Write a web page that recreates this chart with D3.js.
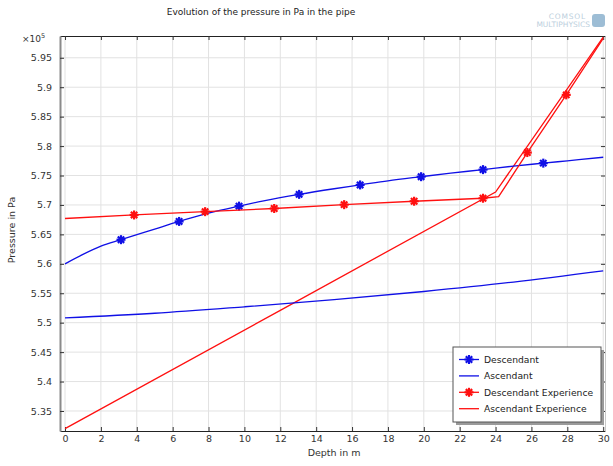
<!DOCTYPE html>
<html lang="en">
<head>
<meta charset="UTF-8">
<title>Evolution of the pressure in Pa in the pipe</title>
<script src="https://d3js.org/d3.v7.min.js"></script>
<style>
  body { margin: 0; background: #fff; }
  text { font-family: "DejaVu Sans", sans-serif; fill: #333; }
</style>
</head>
<body>
<div id="chart"></div>
<script>
// pressure values in units of 1e5 Pa, depth in m
var descX    = [0, 1, 2, 3.12, 5, 6.36, 8, 9.7, 11, 13.05, 15, 16.45, 18, 19.85, 21.5, 23.3, 25, 26.66, 28, 30];
var descY    = [5.600, 5.616, 5.630, 5.641, 5.659, 5.672, 5.686, 5.698, 5.7065, 5.718, 5.7275, 5.734, 5.741, 5.748, 5.754, 5.760, 5.766, 5.771, 5.775, 5.781];
var descMarks = [3.12, 6.36, 9.7, 13.05, 16.45, 19.85, 23.3, 26.66];

var ascX     = [0, 5, 10, 15, 20, 25, 30];
var ascY     = [5.508, 5.516, 5.527, 5.539, 5.553, 5.569, 5.588];

var descExpX = [0, 3.85, 7.81, 11.66, 15.56, 19.46, 23.3, 24.17, 25.77, 27.94, 30];
var descExpY = [5.677, 5.683, 5.6886, 5.694, 5.7005, 5.7063, 5.7114, 5.714, 5.789, 5.887, 5.983];
var descExpMarks = [3.85, 7.81, 11.66, 15.56, 19.46, 23.3, 25.77, 27.94];

var ascExpX  = [0, 12, 24, 30];
var ascExpY  = [5.320, 5.521, 5.722, 5.985];

var xTicks = d3.range(0, 31, 2);
var yTicks = [5.35, 5.4, 5.45, 5.5, 5.55, 5.6, 5.65, 5.7, 5.75, 5.8, 5.85, 5.9, 5.95];

var seriesNames = ["Descendant", "Ascendant", "Descendant Experience", "Ascendant Experience"];
var seriesColors = ["#1010e6", "#1010e6", "#ff1010", "#ff1010"];

var width = 613, height = 466;
var pLeft = 60, pRight = 605, pTop = 36, pBottom = 431;

var svg = d3.select("#chart").append("svg")
    .attr("width", width)
    .attr("height", height);

var x = d3.scaleLinear().domain([-0.28, 30.1]).range([pLeft, pRight]);
var y = d3.scaleLinear().domain([5.316, 5.987]).range([pBottom, pTop]);

// title and logo
svg.append("text")
   .attr("x", 261).attr("y", 15)
   .attr("text-anchor", "middle")
   .attr("font-size", "9px")
   .style("fill", "#222")
   .text("Evolution of the pressure in Pa in the pipe");

svg.append("text")
   .attr("x", 586).attr("y", 19)
   .attr("text-anchor", "end")
   .attr("font-size", "7.5px")
   .attr("letter-spacing", "0.8px")
   .style("fill", "#bccfdd")
   .text("COMSOL");
svg.append("text")
   .attr("x", 590).attr("y", 27)
   .attr("text-anchor", "end")
   .attr("font-size", "7.5px")
   .style("fill", "#bccfdd")
   .text("MULTIPHYSICS");
svg.append("rect")
   .attr("x", 592).attr("y", 14).attr("width", 13).attr("height", 13)
   .attr("rx", 3)
   .attr("fill", "#9dbdd5");

// grid
svg.append("g").selectAll("line")
   .data(xTicks).enter().append("line")
   .attr("x1", function(d) { return x(d); })
   .attr("x2", function(d) { return x(d); })
   .attr("y1", pTop).attr("y2", pBottom)
   .attr("stroke", "#e2e2e2");

svg.append("g").selectAll("line")
   .data(yTicks).enter().append("line")
   .attr("y1", function(d) { return y(d); })
   .attr("y2", function(d) { return y(d); })
   .attr("x1", pLeft).attr("x2", pRight)
   .attr("stroke", "#e2e2e2");

// axes, ticks inward
function fmt(d) { return String(+d.toFixed(2)); }

var xAxis = svg.append("g")
   .attr("transform", "translate(0," + pBottom + ")")
   .call(d3.axisBottom(x).tickValues(xTicks).tickSizeInner(-4).tickSizeOuter(0).tickPadding(4));
var xTop = svg.append("g")
   .attr("transform", "translate(0," + pTop + ")")
   .call(d3.axisTop(x).tickValues(xTicks).tickSizeInner(-4).tickSizeOuter(0).tickFormat(""));
var yAxis = svg.append("g")
   .attr("transform", "translate(" + pLeft + ",0)")
   .call(d3.axisLeft(y).tickValues(yTicks).tickSizeInner(-4).tickSizeOuter(0).tickPadding(8).tickFormat(fmt));
var yRight = svg.append("g")
   .attr("transform", "translate(" + pRight + ",0)")
   .call(d3.axisRight(y).tickValues(yTicks).tickSizeInner(-4).tickSizeOuter(0).tickFormat(""));

[xAxis, xTop, yAxis, yRight].forEach(function(g) {
    g.selectAll("text").attr("font-size", "9.5px").style("fill", "#333");
    g.selectAll(".tick line").attr("stroke", "#333");
});
xAxis.select(".domain").attr("stroke", "#222");
xTop.select(".domain").attr("stroke", "#222");
yAxis.select(".domain").attr("stroke", "#8a8a8a").attr("stroke-width", 2);
yRight.select(".domain").attr("stroke", "#c8c8c8");

// axis labels
svg.append("text")
   .attr("x", x(15)).attr("y", 456)
   .attr("text-anchor", "middle")
   .attr("font-size", "9.5px")
   .text("Depth in m");

svg.append("text")
   .attr("transform", "translate(15," + 230 + ") rotate(-90)")
   .attr("text-anchor", "middle")
   .attr("font-size", "9.5px")
   .text("Pressure in Pa");

var mult = svg.append("text")
   .attr("x", 22).attr("y", 42)
   .attr("font-size", "9px");
mult.append("tspan").text("\u00d710");
mult.append("tspan").attr("dy", -4).attr("font-size", "6.5px").text("5");

// clip
svg.append("clipPath").attr("id", "plotclip")
   .append("rect").attr("x", pLeft).attr("y", pTop)
   .attr("width", pRight - pLeft).attr("height", pBottom - pTop);

var smooth = d3.line()
    .curve(d3.curveMonotoneX)
    .x(function(d) { return x(d[0]); })
    .y(function(d) { return y(d[1]); });
var straight = d3.line()
    .x(function(d) { return x(d[0]); })
    .y(function(d) { return y(d[1]); });

var plot = svg.append("g").attr("clip-path", "url(#plotclip)");

function zip(xs, ys) { return xs.map(function(v, i) { return [v, ys[i]]; }); }

var allSeries = [
    { pts: zip(descX, descY), marks: descMarks, line: smooth },
    { pts: zip(ascX, ascY), marks: [], line: smooth },
    { pts: zip(descExpX, descExpY), marks: descExpMarks, line: straight },
    { pts: zip(ascExpX, ascExpY), marks: [], line: straight }
];

// asterisk marker
function star(g, cx, cy, color) {
    var r = 4.5;
    var mk = g.append("g").attr("transform", "translate(" + cx + "," + cy + ")");
    [0, 45, 90, 135].forEach(function(a) {
        var rad = a * Math.PI / 180;
        mk.append("line")
          .attr("x1", -r * Math.cos(rad)).attr("y1", -r * Math.sin(rad))
          .attr("x2", r * Math.cos(rad)).attr("y2", r * Math.sin(rad))
          .attr("stroke", color).attr("stroke-width", 2.2);
    });
}

// draw in order so that descending lines are on top
[3, 1, 0, 2].forEach(function(i) {
    var s = allSeries[i];
    plot.append("path")
        .datum(s.pts)
        .attr("d", s.line)
        .attr("fill", "none")
        .attr("stroke", seriesColors[i])
        .attr("stroke-width", 1.3);
    s.marks.forEach(function(m) {
        var p = s.pts.find(function(d) { return d[0] === m; });
        star(plot, x(p[0]), y(p[1]), seriesColors[i]);
    });
});

// legend
var lg = svg.append("g").attr("transform", "translate(453,347)");
lg.append("rect").attr("x", 3).attr("y", 3).attr("width", 148).attr("height", 75).attr("fill", "#9a9a9a");
lg.append("rect").attr("x", 0).attr("y", 0).attr("width", 148).attr("height", 75)
  .attr("fill", "#fff").attr("stroke", "#555").attr("stroke-width", 1);

seriesNames.forEach(function(name, i) {
    var yy = 12.5 + i * 16.4;
    lg.append("line")
      .attr("x1", 6).attr("x2", 26).attr("y1", yy).attr("y2", yy)
      .attr("stroke", seriesColors[i]).attr("stroke-width", 1.3);
    if (i === 0 || i === 2) star(lg, 16, yy, seriesColors[i]);
    lg.append("text")
      .attr("x", 31).attr("y", yy + 3.5)
      .attr("font-size", "9.2px")
      .style("fill", "#222")
      .text(name);
});
</script>
</body>
</html>
